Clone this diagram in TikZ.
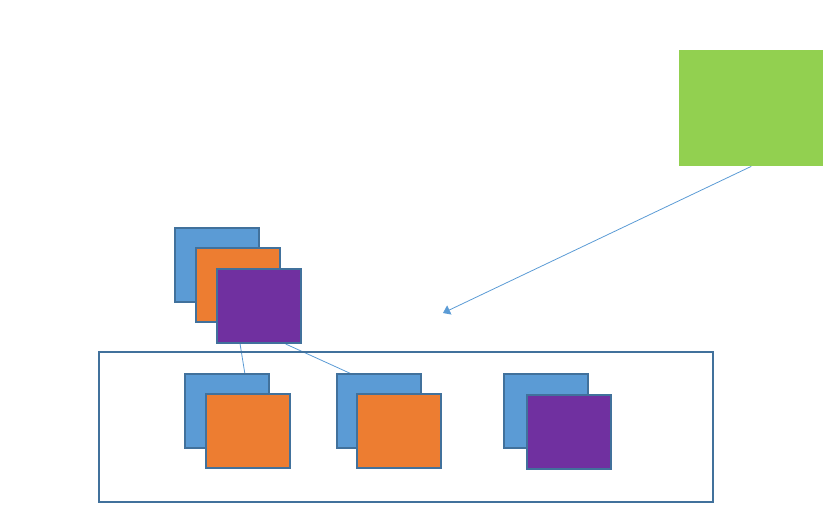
\documentclass[tikz,border=0pt]{standalone}
\usetikzlibrary{arrows.meta,calc}
\definecolor{cblue}{HTML}{5B9BD5}
\definecolor{corange}{HTML}{ED7D31}
\definecolor{cpurple}{HTML}{7030A0}
\definecolor{cgreen}{HTML}{92D050}
\definecolor{cborder}{HTML}{41719C}
\pgfdeclarelayer{bg}
\pgfsetlayers{bg,main}
\begin{document}
\begin{tikzpicture}[x=1pt,y=-1pt,
  sq/.style={draw=cborder,line width=2pt,inner sep=0,anchor=north west,minimum width=84pt,minimum height=74pt},
  bsq/.style={sq,fill=cblue},
  osq/.style={sq,fill=corange},
  psq/.style={sq,fill=cpurple},
  conn/.style={draw=cblue,line width=0.8pt,-{Triangle[width=10pt,length=7pt]}}]
\useasboundingbox (0,0) rectangle (839,527);
\node[fill=cgreen,inner sep=0,anchor=north west,minimum width=144pt,minimum height=116pt] (g) at (679,50) {};
\node[draw=cborder,line width=2pt,inner sep=0,anchor=north west,minimum width=614pt,minimum height=150pt] (box) at (98,351) {};
\node[bsq] (b0) at (174,227) {};
\node[osq] (o0) at (195,247) {};
\node[psq] (p0) at (216,268) {};
\node[bsq] (b1) at (184,373) {};
\node[osq] (o1) at (205,393) {};
\node[bsq] (b2) at (336,373) {};
\node[osq] (o2) at (356,393) {};
\node[bsq] (b3) at (503,373) {};
\node[psq] (p3) at (526,394) {};
\coordinate (t) at (443,313);
\begin{pgfonlayer}{bg}
\draw[conn] ($(p0.south west)!0.28!(p0.south east)$) -- (o1.north);
\draw[conn] ($(p0.south west)!0.81!(p0.south east)$) -- ($(o2.north west)!0.435!(o2.north east)$);
\end{pgfonlayer}
\draw[conn] (g.south) -- (t);
\end{tikzpicture}
\end{document}
